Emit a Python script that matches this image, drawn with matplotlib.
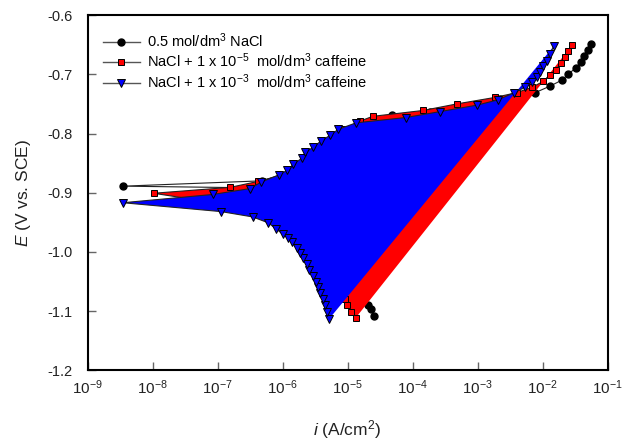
import matplotlib
matplotlib.use("Agg")
import matplotlib.pyplot as plt
from matplotlib.lines import Line2D
from matplotlib.ticker import LogLocator, NullLocator

plt.rcParams['font.family'] = ['Liberation Sans', 'DejaVu Sans']
plt.rcParams['mathtext.fontset'] = 'custom'
plt.rcParams['mathtext.rm'] = 'Liberation Sans'
plt.rcParams['mathtext.it'] = 'Liberation Sans:italic'
plt.rcParams['axes.unicode_minus'] = False

# 0.5 mol/dm3 NaCl  (scan order: cathodic from -1.1 V up to Ecorr, then anodic)
i_nacl = [2.56e-5, 2.28e-5, 2.09e-5, 1.67e-5, 1.17e-5, 7.7e-6, 5.0e-6, 3.05e-6,
          1.61e-6, 6.9e-7, 4.8e-7, 3.5e-9,
          4.8e-7, 1.56e-6, 2.22e-6, 4.5e-6, 9.2e-6, 1.86e-5, 4.8e-5, 1.84e-4,
          6.4e-4, 2.22e-3, 7.7e-3, 1.30e-2, 1.97e-2, 2.49e-2, 3.24e-2, 3.91e-2,
          4.40e-2, 4.95e-2, 5.57e-2]
E_nacl = [-1.109, -1.097, -1.090, -1.070, -1.039, -1.011, -0.984, -0.960,
          -0.940, -0.904, -0.892, -0.889,
          -0.880, -0.862, -0.850, -0.823, -0.799, -0.783, -0.768, -0.763,
          -0.753, -0.742, -0.731, -0.720, -0.710, -0.700, -0.689, -0.679,
          -0.669, -0.659, -0.649]

# NaCl + 1 x 10-5 mol/dm3 caffeine
i_caf5 = [1.35e-5, 1.12e-5, 9.7e-6, 9.3e-6, 7.1e-6, 5.0e-6, 3.5e-6, 2.3e-6,
          1.30e-6, 5.4e-7, 1.56e-7, 1.04e-8,
          1.57e-7, 4.2e-7, 1.05e-6, 1.40e-6, 1.73e-6, 2.34e-6, 2.65e-6, 3.5e-6,
          4.6e-6, 6.4e-6, 8.5e-6, 1.56e-5, 2.44e-5, 1.47e-4, 4.8e-4, 1.86e-3,
          4.0e-3, 6.8e-3, 1.03e-2, 1.30e-2, 1.63e-2, 1.93e-2, 2.22e-2, 2.49e-2,
          2.84e-2]
E_caf5 = [-1.111, -1.101, -1.090, -1.079, -1.056, -1.031, -1.006, -0.980,
          -0.957, -0.936, -0.921, -0.901,
          -0.891, -0.881, -0.870, -0.862, -0.852, -0.842, -0.832, -0.823,
          -0.813, -0.803, -0.793, -0.779, -0.771, -0.761, -0.750, -0.739,
          -0.731, -0.722, -0.712, -0.701, -0.692, -0.681, -0.671, -0.661,
          -0.651]

# NaCl + 1 x 10-3 mol/dm3 caffeine
i_caf3 = [5.25e-6, 4.89e-6, 4.51e-6, 4.15e-6, 3.78e-6, 3.56e-6, 3.27e-6, 2.98e-6,
          2.58e-6, 2.36e-6, 2.09e-6, 1.86e-6, 1.65e-6, 1.39e-6, 1.23e-6, 1.01e-6,
          7.9e-7, 6.05e-7, 3.48e-7, 1.14e-7, 3.5e-9,
          8.5e-8, 3.2e-7, 4.7e-7, 8.8e-7, 1.19e-6, 1.47e-6, 1.97e-6, 2.22e-6,
          2.98e-6, 3.87e-6, 5.4e-6, 7.2e-6, 1.35e-5, 7.9e-5, 2.65e-4, 9.9e-4,
          2.09e-3, 3.65e-3, 5.4e-3, 6.8e-3, 8.1e-3, 9.2e-3, 1.03e-2, 1.16e-2,
          1.30e-2, 1.50e-2]
E_caf3 = [-1.113, -1.101, -1.090, -1.079, -1.069, -1.059, -1.051, -1.041,
          -1.031, -1.021, -1.011, -1.002, -0.993, -0.983, -0.977, -0.970,
          -0.961, -0.951, -0.941, -0.932, -0.917,
          -0.903, -0.893, -0.882, -0.870, -0.862, -0.852, -0.842, -0.832,
          -0.823, -0.813, -0.803, -0.793, -0.782, -0.773, -0.763, -0.752,
          -0.743, -0.731, -0.722, -0.713, -0.704, -0.696, -0.686, -0.677,
          -0.666, -0.652]

labels = ['0.5 mol/dm$^3$ NaCl',
          'NaCl + 1 x 10$^{-5}$  mol/dm$^3$ caffeine',
          'NaCl + 1 x 10$^{-3}$  mol/dm$^3$ caffeine']

fig = plt.figure(figsize=(6.36, 4.46), dpi=100)
ax = fig.add_axes([0.1376, 0.170, 0.8176, 0.796])

line_c = '#222222'
ax.plot(i_nacl, E_nacl, color=line_c, lw=0.8, marker='o', ms=5,
        mfc='black', mec='black', zorder=2)

ax.fill(i_caf5, E_caf5, color='#ff0000', lw=0, zorder=3)
ax.plot(i_caf5, E_caf5, color=line_c, lw=0.8, marker='s', ms=5,
        mfc='#ff0000', mec='black', mew=0.7, zorder=4)

ax.fill(i_caf3, E_caf3, color='#0000ff', lw=0, zorder=5)
ax.plot(i_caf3, E_caf3, color=line_c, lw=0.8, marker='v', ms=6,
        mfc='#0000ff', mec='black', mew=0.7, zorder=6)

ax.set_xscale('log')
ax.set_xlim(1e-9, 1e-1)
ax.set_ylim(-1.2, -0.6)
ax.xaxis.set_major_locator(LogLocator(base=10, numticks=20))
ax.xaxis.set_minor_locator(NullLocator())
ax.set_yticks([-1.2, -1.1, -1.0, -0.9, -0.8, -0.7, -0.6])
ax.set_yticklabels(['-1.2', '-1.1', '-1.0', '-0.9', '-0.8', '-0.7', '-0.6'])

ax.tick_params(axis='both', direction='in', length=6, width=1,
               color='#666666', labelsize=10.5, labelcolor='#222222')
ax.tick_params(axis='x', labelsize=11, pad=6)
ax.tick_params(axis='y', pad=11)
for s in ax.spines.values():
    s.set_linewidth(1.5)
    s.set_color('black')

ax.set_xlabel('$i$ (A/cm$^2$)', fontsize=12.5, color='#222222', labelpad=15)
ax.set_ylabel('$E$ (V vs. SCE)', fontsize=12.5, color='#222222', labelpad=10)

handles = [
    Line2D([], [], color='#555555', lw=1, marker='o', ms=5, mfc='black', mec='black'),
    Line2D([], [], color='#555555', lw=1, marker='s', ms=5, mfc='#ff0000', mec='black', mew=0.7),
    Line2D([], [], color='#555555', lw=1, marker='v', ms=6, mfc='#0000ff', mec='black', mew=0.7),
]
ax.legend(handles, labels, loc='upper left', bbox_to_anchor=(0.03, 0.955),
          frameon=False, fontsize=10.5, handlelength=2.5, handletextpad=0.5,
          labelspacing=0.13, borderpad=0, borderaxespad=0)

fig.savefig('out.png', dpi=100)
